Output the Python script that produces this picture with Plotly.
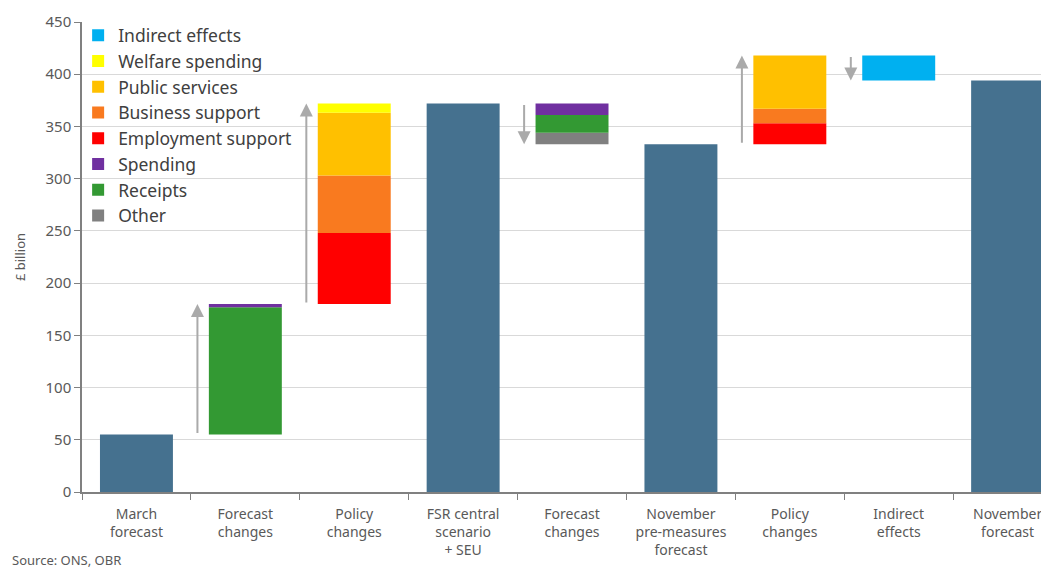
import plotly.graph_objects as go

# Categories along the x axis
categories = ["March<br>forecast", "Forecast<br>changes", "Policy<br>changes",
              "FSR central<br>scenario<br>+ SEU", "Forecast<br>changes",
              "November<br>pre-measures<br>forecast", "Policy<br>changes",
              "Indirect<br>effects", "November<br>forecast"]

# Level bars (£ billion), None where the column is a change
totals = [55, None, None, 372, None, 333, None, None, 394]

# Change components (£ billion)
other = [0, 0, 0, 0, -11, 0, 0, 0, 0]
receipts = [0, 122, 0, 0, -17, 0, 0, 0, 0]
spending = [0, 3, 0, 0, -11, 0, 0, 0, 0]
employment_support = [0, 0, 68, 0, 0, 0, 20, 0, 0]
business_support = [0, 0, 55, 0, 0, 0, 14, 0, 0]
public_services = [0, 0, 60, 0, 0, 0, 51, 0, 0]
welfare_spending = [0, 0, 9, 0, 0, 0, 0, 0, 0]
indirect_effects = [0, 0, 0, 0, 0, 0, 0, -24, 0]

# stacking order from the bottom of each change bar
series = [
    ("Other", other, "#808080"),
    ("Receipts", receipts, "#339933"),
    ("Spending", spending, "#7030A0"),
    ("Employment support", employment_support, "#FF0000"),
    ("Business support", business_support, "#F97A1F"),
    ("Public services", public_services, "#FFC000"),
    ("Welfare spending", welfare_spending, "#FFFF00"),
    ("Indirect effects", indirect_effects, "#00B0F0"),
]

BAR_W = 0.67
n = len(categories)

# work out where each change bar starts and ends
levels_start = []
levels_end = []
level = 0
for i in range(n):
    if totals[i] is not None:
        level = totals[i]
        levels_start.append(None)
        levels_end.append(None)
        continue
    change = sum(s[1][i] for s in series)
    levels_start.append(level)
    levels_end.append(level + change)
    level = level + change

fig = go.Figure()

fig.add_trace(go.Bar(
    x=[i for i in range(n) if totals[i] is not None],
    y=[t for t in totals if t is not None],
    width=BAR_W, marker=dict(color="#45718F", line=dict(width=0)),
    showlegend=False, hoverinfo="y"))

# bottoms of each segment
running = {i: min(levels_start[i], levels_end[i]) for i in range(n) if levels_start[i] is not None}
rank = {name: r for r, name in enumerate(["Indirect effects", "Welfare spending", "Public services",
                                          "Business support", "Employment support", "Spending",
                                          "Receipts", "Other"])}
for name, vals, color in series:
    xs, ys, bases = [], [], []
    for i in range(n):
        if levels_start[i] is None or vals[i] == 0:
            continue
        xs.append(i)
        ys.append(abs(vals[i]))
        bases.append(running[i])
        running[i] += abs(vals[i])
    fig.add_trace(go.Bar(
        x=xs, y=ys, base=bases, name=name, width=BAR_W,
        marker=dict(color=color, line=dict(width=0)),
        legendrank=rank[name] + 1))

# grey direction arrows beside the change bars
for i in range(n):
    if levels_start[i] is None:
        continue
    fig.add_annotation(
        x=i - 0.44, y=levels_end[i], ax=i - 0.44, ay=levels_start[i],
        xref="x", yref="y", axref="x", ayref="y", text="", showarrow=True,
        arrowhead=2, arrowsize=1.3, arrowwidth=2, arrowcolor="#AAAAAA")

fig.add_annotation(text="Source: ONS, OBR", xref="paper", yref="paper", x=-0.0745, y=-0.1447,
                   xanchor="left", yanchor="middle", showarrow=False,
                   font=dict(size=13, color="#595959"))

# page body adds an 8px offset, so the figure is 8px smaller than the window
fig.update_layout(
    width=1041, height=561,
    margin=dict(l=74, r=0, t=14, b=77),
    paper_bgcolor="white", plot_bgcolor="white",
    barmode="overlay",
    font=dict(family="Noto Sans", color="#595959"),
    legend=dict(x=-0.004, y=1.01, xanchor="left", yanchor="top", bgcolor="rgba(0,0,0,0)",
                itemwidth=30, font=dict(size=17.5, color="#404040"), tracegroupgap=0),
    xaxis=dict(range=[-0.5, 8.38], tickvals=list(range(n)), ticktext=categories,
               automargin=False, ticklabelstandoff=8,
               showgrid=False, showline=True, linecolor="#808080", linewidth=1.5,
               ticks="", tickfont=dict(size=14, color="#595959"),
               minor=dict(tick0=0.5, dtick=1, ticks="outside", ticklen=6, tickcolor="#808080")),
    yaxis=dict(range=[0, 450], dtick=50, showgrid=True, gridcolor="#D9D9D9",
               automargin=False,
               showline=True, linecolor="#808080", linewidth=1.5,
               ticks="outside", ticklen=6, tickcolor="#808080",
               tickfont=dict(size=15, color="#595959"),
               title=dict(text="£ billion", font=dict(size=13, color="#595959"), standoff=17)),
)

fig.write_html("out.html")
